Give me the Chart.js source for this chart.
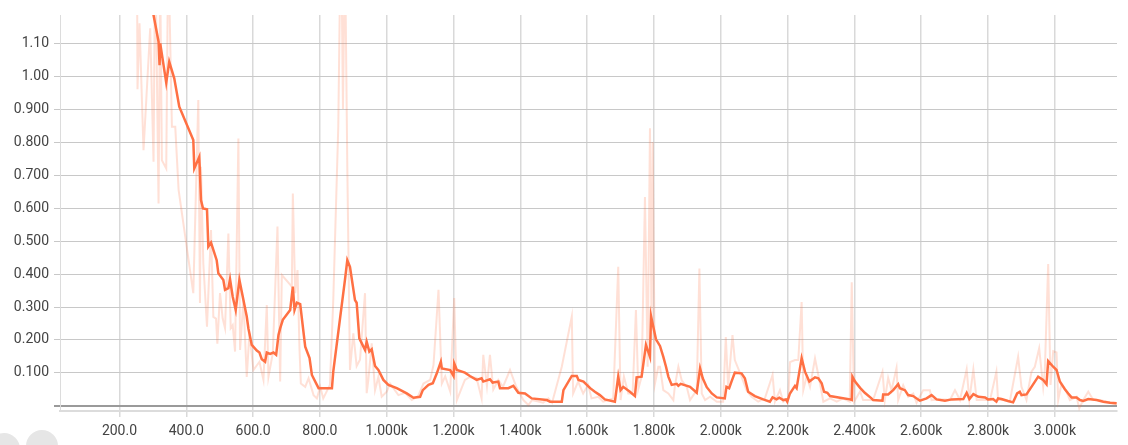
<!DOCTYPE html>
<html>
<head>
<meta charset="utf-8">
<script src="https://cdn.jsdelivr.net/npm/chart.js@4"></script>
<style>
  body { margin: 0; background: #fff; }
  .wrap { position: relative; width: 1128px; height: 445px; overflow: hidden; }
  .dot { position: absolute; border-radius: 50%; background: #e6e6e6; }
</style>
</head>
<body>
<div class="wrap">
  <canvas id="chart" width="1128" height="445"></canvas>
  <div class="dot" style="left:-12px;top:433px;width:32px;height:32px"></div>
  <div class="dot" style="left:26px;top:430px;width:32px;height:32px"></div>
</div>
<script>
'use strict';

// x ticks and y ticks
const xTicks = [200, 400, 600, 800, 1000, 1200, 1400, 1600, 1800, 2000, 2200, 2400, 2600, 2800, 3000];
const yTicks = [0, 0.1, 0.2, 0.3, 0.4, 0.5, 0.6, 0.7, 0.8, 0.9, 1.0, 1.1];

// smoothed series
const smoothSteps = [
  253, 277, 301, 317, 320, 322, 340, 349, 364, 379, 421, 424, 439, 444, 450, 462, 466, 474, 491, 496,
  511, 516, 526, 531, 539, 548, 559, 581, 586, 596, 611, 619, 626, 636, 641, 651, 661, 669, 676, 681,
  689, 711, 719, 724, 731, 741, 756, 769, 776, 791, 796, 836, 840, 875, 882, 890, 905, 910, 918, 935,
  940, 948, 955, 965, 975, 990, 1005, 1030, 1060, 1080, 1100, 1108, 1125, 1138, 1150, 1162, 1165, 1190, 1200, 1202,
  1210, 1234, 1249, 1269, 1284, 1289, 1309, 1317, 1334, 1339, 1364, 1379, 1394, 1414, 1434, 1479, 1489, 1524, 1529, 1554,
  1569, 1574, 1589, 1599, 1609, 1623, 1638, 1653, 1683, 1693, 1700, 1708, 1728, 1743, 1748, 1763, 1776, 1788, 1791, 1806,
  1818, 1828, 1836, 1843, 1853, 1868, 1873, 1880, 1908, 1928, 1938, 1946, 1958, 1973, 1988, 2012, 2017, 2025, 2032, 2042,
  2062, 2072, 2082, 2102, 2127, 2147, 2155, 2167, 2175, 2187, 2195, 2199, 2207, 2222, 2227, 2242, 2252, 2265, 2282, 2292,
  2302, 2309, 2319, 2327, 2357, 2387, 2392, 2394, 2402, 2417, 2431, 2451, 2456, 2484, 2486, 2501, 2516, 2531, 2536, 2551,
  2561, 2576, 2596, 2616, 2631, 2646, 2671, 2691, 2726, 2736, 2744, 2756, 2771, 2791, 2800, 2815, 2825, 2830, 2840, 2860,
  2875, 2887, 2895, 2900, 2915, 2930, 2950, 2965, 2975, 2980, 2995, 3005, 3015, 3030, 3040, 3050, 3065, 3075, 3085, 3100,
  3125, 3145, 3165, 3185,
];
const smoothValues = [
  1.45, 1.33, 1.19, 1.104, 1.033, 1.099, 0.980, 1.043, 0.993, 0.907, 0.806, 0.720, 0.755, 0.624, 0.599, 0.596, 0.483, 0.495, 0.442, 0.402,
  0.382, 0.352, 0.357, 0.384, 0.331, 0.291, 0.382, 0.271, 0.235, 0.185, 0.168, 0.162, 0.142, 0.134, 0.162, 0.158, 0.162, 0.155, 0.215, 0.235,
  0.261, 0.291, 0.362, 0.291, 0.313, 0.309, 0.180, 0.145, 0.094, 0.064, 0.054, 0.054, 0.104, 0.382, 0.442, 0.422, 0.321, 0.313, 0.205, 0.170,
  0.195, 0.165, 0.172, 0.121, 0.109, 0.079, 0.064, 0.054, 0.038, 0.025, 0.028, 0.048, 0.064, 0.069, 0.099, 0.134, 0.114, 0.109, 0.091, 0.129,
  0.109, 0.101, 0.091, 0.079, 0.084, 0.074, 0.081, 0.071, 0.074, 0.054, 0.054, 0.061, 0.040, 0.038, 0.023, 0.018, 0.013, 0.013, 0.048, 0.091,
  0.091, 0.079, 0.074, 0.064, 0.054, 0.043, 0.033, 0.020, 0.013, 0.089, 0.048, 0.058, 0.043, 0.030, 0.087, 0.089, 0.185, 0.149, 0.273, 0.202,
  0.182, 0.149, 0.119, 0.089, 0.064, 0.067, 0.061, 0.067, 0.058, 0.040, 0.114, 0.084, 0.057, 0.038, 0.026, 0.023, 0.058, 0.054, 0.074, 0.101,
  0.099, 0.084, 0.043, 0.030, 0.020, 0.013, 0.026, 0.020, 0.025, 0.018, 0.020, 0.013, 0.038, 0.061, 0.054, 0.145, 0.104, 0.074, 0.087, 0.084,
  0.069, 0.043, 0.040, 0.030, 0.025, 0.020, 0.018, 0.089, 0.074, 0.055, 0.040, 0.023, 0.018, 0.016, 0.035, 0.035, 0.048, 0.066, 0.054, 0.048,
  0.033, 0.030, 0.016, 0.023, 0.033, 0.020, 0.016, 0.020, 0.021, 0.040, 0.021, 0.036, 0.028, 0.026, 0.020, 0.021, 0.013, 0.023, 0.021, 0.015,
  0.011, 0.038, 0.043, 0.033, 0.035, 0.058, 0.089, 0.079, 0.066, 0.136, 0.119, 0.109, 0.074, 0.051, 0.038, 0.026, 0.026, 0.018, 0.015, 0.021,
  0.018, 0.013, 0.010, 0.008,
];

// raw series
const rawSteps = [
  252, 254, 260, 272, 292, 302, 307, 317, 322, 327, 340, 346, 357, 367, 377, 421, 436, 441, 444, 451,
  462, 474, 481, 489, 493, 501, 509, 516, 526, 533, 539, 546, 556, 561, 571, 581, 589, 601, 619, 631,
  641, 646, 659, 673, 681, 686, 716, 719, 726, 733, 739, 743, 756, 766, 781, 791, 801, 810, 830, 840,
  855, 863, 869, 875, 882, 890, 900, 910, 920, 935, 940, 945, 955, 965, 975, 985, 1000, 1010, 1035, 1055,
  1075, 1094, 1110, 1130, 1140, 1155, 1165, 1175, 1190, 1202, 1210, 1234, 1249, 1269, 1284, 1289, 1300, 1309, 1319, 1334,
  1348, 1369, 1387, 1409, 1424, 1435, 1468, 1484, 1495, 1524, 1554, 1558, 1573, 1588, 1603, 1613, 1633, 1648, 1678, 1693,
  1700, 1710, 1723, 1736, 1746, 1753, 1763, 1773, 1781, 1788, 1793, 1796, 1803, 1813, 1818, 1828, 1843, 1858, 1863, 1873,
  1883, 1898, 1908, 1928, 1936, 1943, 1953, 1968, 1988, 2007, 2015, 2022, 2035, 2042, 2062, 2077, 2092, 2112, 2132, 2155,
  2162, 2177, 2187, 2202, 2207, 2222, 2232, 2242, 2247, 2257, 2267, 2282, 2297, 2307, 2327, 2347, 2366, 2386, 2392, 2399,
  2417, 2426, 2456, 2484, 2491, 2501, 2511, 2526, 2531, 2546, 2561, 2576, 2586, 2606, 2626, 2631, 2651, 2671, 2686, 2701,
  2716, 2736, 2744, 2756, 2766, 2786, 2806, 2825, 2830, 2845, 2865, 2890, 2900, 2915, 2930, 2940, 2953, 2965, 2970, 2980,
  2987, 2995, 3005, 3010, 3020, 3035, 3045, 3065, 3073, 3085, 3100, 3115, 3135, 3155, 3185,
];
const rawValues = [
  1.5, 0.96, 1.16, 0.775, 1.145, 0.74, 1.4, 0.614, 1.3, 0.745, 0.72, 1.4, 0.846, 0.846, 0.655, 0.342, 0.927, 0.312, 0.725, 0.432,
  0.240, 0.533, 0.270, 0.265, 0.189, 0.342, 0.265, 0.236, 0.523, 0.236, 0.245, 0.165, 0.811, 0.170, 0.321, 0.088, 0.220, 0.109, 0.134, 0.079,
  0.306, 0.088, 0.160, 0.544, 0.074, 0.397, 0.362, 0.644, 0.342, 0.412, 0.170, 0.068, 0.058, 0.084, 0.033, 0.023, 0.058, 0.023, 0.064, 0.321,
  0.847, 1.5, 0.9, 1.4, 0.725, 0.109, 0.220, 0.121, 0.140, 0.342, 0.039, 0.079, 0.190, 0.048, 0.088, 0.028, 0.043, 0.068, 0.033, 0.04,
  0.018, 0.03, 0.068, 0.079, 0.124, 0.352, 0.068, 0.09, 0.044, 0.327, 0.018, 0.079, 0.088, 0.085, 0.023, 0.155, 0.06, 0.155, 0.05, 0.079,
  0.058, 0.109, 0.06, 0.018, 0.003, 0.018, 0.01, 0.023, 0.01, 0.119, 0.271, 0.038, 0.074, 0.038, 0.064, 0.023, 0.028, 0.013, 0.023, 0.422,
  0.018, 0.089, 0.038, 0.038, 0.291, 0.051, 0.089, 0.633, 0.119, 0.842, 0.200, 0.8, 0.068, 0.119, 0.119, 0.048, 0.038, 0.018, 0.064, 0.119,
  0.078, 0.058, 0.018, 0.048, 0.417, 0.038, 0.018, 0.028, 0.013, 0.013, 0.209, 0.058, 0.215, 0.139, 0.089, 0.048, 0.028, 0.013, 0.023, 0.094,
  0.013, 0.048, 0.013, 0.023, 0.133, 0.139, 0.139, 0.315, 0.048, 0.089, 0.058, 0.144, 0.068, 0.013, 0.023, 0.013, 0.023, 0.013, 0.375, 0.013,
  0.044, 0.018, 0.018, 0.104, 0.018, 0.085, 0.048, 0.115, 0.018, 0.063, 0.028, 0.038, 0.01, 0.048, 0.048, 0.018, 0.02, 0.02, 0.018, 0.048,
  0.018, 0.111, 0.018, 0.111, 0.018, 0.018, 0.018, 0.104, 0.018, 0.018, 0.013, 0.149, 0.058, 0.018, 0.104, 0.119, 0.175, 0.058, 0.109, 0.43,
  0.064, 0.166, 0.162, 0.018, 0.068, 0.043, 0.018, 0.028, -0.007, 0.018, 0.043, 0.018, 0.018, 0.013, 0.005,
];

const toPoints = (xs, ys) => xs.map((x, i) => ({ x, y: ys[i] }));

const fmtX = (v) => (v >= 1000 ? (v / 1000).toFixed(3) + 'k' : v.toFixed(1));
const fmtY = (v) => {
  if (Math.abs(v) < 1e-9) return '';
  return v >= 1 ? v.toFixed(2) : v.toFixed(3);
};

const tickFont = { family: 'Roboto', size: 14 };

new Chart(document.getElementById('chart').getContext('2d'), {
  type: 'line',
  data: {
    datasets: [
      {
        label: 'smoothed',
        data: toPoints(smoothSteps, smoothValues),
        borderColor: '#ff7043',
        borderWidth: 2.5,
        pointRadius: 0,
        tension: 0,
        fill: false,
      },
      {
        label: 'raw',
        data: toPoints(rawSteps, rawValues),
        borderColor: 'rgba(255,112,67,0.22)',
        borderWidth: 2,
        pointRadius: 0,
        tension: 0,
        fill: false,
      },
    ],
  },
  options: {
    responsive: false,
    animation: false,
    layout: { padding: { top: 15, right: 11, left: 0, bottom: 0 } },
    plugins: { legend: { display: false }, tooltip: { enabled: false } },
    scales: {
      x: {
        type: 'linear',
        min: 22,
        max: 3186,
        afterBuildTicks: (scale) => { scale.ticks = xTicks.map(v => ({ value: v })); },
        afterFit: (scale) => { scale.height = 34; },
        ticks: { callback: (v) => fmtX(v), font: tickFont, color: '#444444', padding: 6, maxRotation: 0, autoSkip: false },
        grid: { color: '#d9d9d9', lineWidth: 1.5, tickLength: 6 },
        border: { color: '#dcdcdc', width: 2 },
      },
      y: {
        min: -0.0152,
        max: 1.185,
        afterBuildTicks: (scale) => { scale.ticks = yTicks.map(v => ({ value: v })); },
        afterFit: (scale) => { scale.width = 60; },
        ticks: { callback: (v) => fmtY(v), font: tickFont, color: '#444444', padding: 5 },
        grid: {
          color: (ctx) => (ctx.tick && ctx.tick.value === 0 ? '#9a9a9a' : '#c8c8c8'),
          lineWidth: (ctx) => (ctx.tick && ctx.tick.value === 0 ? 2 : 1),
          tickLength: 6,
        },
        border: { color: '#dcdcdc', width: 1 },
      },
    },
  },
});
</script>
</body>
</html>
